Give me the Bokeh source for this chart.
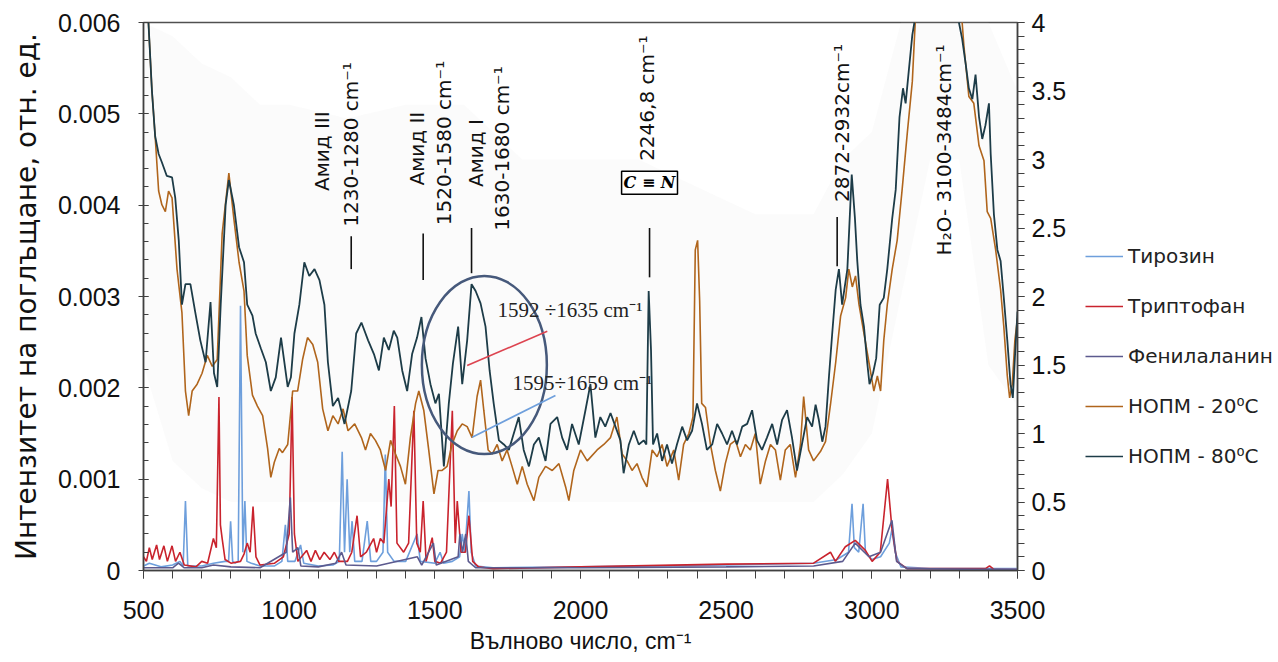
from math import pi
from bokeh.plotting import figure
from bokeh.layouts import row
from bokeh.models import (Range1d, LinearAxis, FixedTicker, CustomJSTickFormatter,
                          Legend, LegendItem, Label)
from bokeh.embed import file_html
from bokeh.resources import INLINE

# ---------------- data (wavenumber, cm-1) ----------------
# NOPM 80 C  (right axis)
x80 = [500, 510, 517, 529, 540, 552, 563, 580, 598, 609, 621, 632, 644, 661, 678, 695, 713, 730, 742, 753,
       765, 782, 793, 810, 828, 845, 856, 874, 885, 903, 920, 937, 954, 972, 995, 1006, 1018, 1035, 1052, 1069,
       1087, 1104, 1121, 1133, 1150, 1168, 1190, 1213, 1230, 1248, 1271, 1291, 1308, 1325, 1342, 1359, 1371, 1388,
       1405, 1422, 1439, 1454, 1468, 1485, 1502, 1514, 1531, 1548, 1562, 1580, 1594, 1611, 1626, 1640, 1657, 1674,
       1688, 1702, 1720, 1737, 1754, 1771, 1788, 1805, 1823, 1840, 1857, 1880, 1897, 1920, 1937, 1954, 1971, 1994,
       2017, 2034, 2051, 2068, 2085, 2103, 2120, 2137, 2148, 2166, 2183, 2200, 2217, 2226, 2234, 2242, 2249, 2263,
       2280, 2297, 2314, 2331, 2349, 2366, 2383, 2400, 2417, 2434, 2452, 2469, 2486, 2503, 2520, 2537, 2555, 2572,
       2589, 2606, 2623, 2640, 2658, 2675, 2692, 2709, 2726, 2743, 2760, 2778, 2795, 2807, 2818, 2830, 2841, 2853,
       2864, 2876, 2887, 2898, 2916, 2931, 2942, 2950, 2961, 2973, 2984, 2992, 3004, 3015, 3027, 3041, 3053, 3070,
       3082, 3095, 3107, 3116, 3127, 3139, 3150, 3200, 3250, 3299, 3310, 3322, 3333, 3345, 3356, 3368, 3379, 3390,
       3402, 3408, 3419, 3431, 3442, 3453, 3465, 3476, 3484, 3491, 3500]
y80 = [4.5, 4.2, 4.0, 3.5, 3.17, 3.04, 2.98, 2.88, 2.87, 2.72, 2.41, 1.94, 2.09, 2.09, 1.88, 1.68, 1.52, 1.96, 1.44, 1.34,
       1.94, 2.67, 2.85, 2.67, 2.36, 2.25, 1.94, 1.86, 1.73, 1.62, 1.52, 1.31, 1.41, 1.70, 1.34, 1.41, 1.73, 1.94, 2.25, 2.15,
       2.20, 2.12, 1.94, 1.52, 1.20, 1.26, 1.07, 1.31, 1.73, 1.81, 1.68, 1.58, 1.46, 1.70, 1.61, 1.75, 1.70, 1.46,
       1.31, 1.58, 1.70, 1.85, 1.55, 1.36, 1.22, 1.29, 0.76, 1.22, 1.51, 1.78, 1.36, 1.68, 2.09, 2.04, 1.95, 1.78,
       1.46, 1.22, 0.95, 0.92, 0.88, 1.00, 1.12, 0.88, 0.76, 0.92, 0.97, 0.80, 1.07, 1.12, 0.97, 0.88, 1.07, 0.92,
       1.17, 1.36, 0.97, 1.12, 1.05, 1.15, 1.05, 0.95, 0.71, 0.92, 1.02, 0.92, 0.95, 0.92, 2.04, 1.61, 0.92, 1.00,
       0.80, 0.92, 0.78, 0.92, 1.05, 0.95, 1.02, 1.22, 1.07, 0.88, 0.92, 1.07, 1.00, 0.92, 1.02, 0.92, 1.05, 1.07,
       1.17, 0.95, 0.88, 0.97, 1.07, 0.92, 1.10, 1.17, 0.97, 0.73, 0.92, 1.12, 1.05, 1.21, 1.10, 0.94, 1.05, 1.42,
       1.73, 2.05, 2.20, 1.94, 2.20, 2.89, 2.57, 2.26, 1.94, 1.78, 1.52, 1.36, 1.44, 1.55, 1.94, 1.99, 2.20, 2.57,
       2.78, 3.31, 3.52, 3.41, 3.65, 3.91, 4.05, 4.4, 4.4, 4.0, 3.88, 3.70, 3.52, 3.44, 3.62, 3.31, 3.15, 3.25,
       3.41, 3.04, 2.60, 2.34, 2.26, 1.99, 1.68, 1.36, 1.26, 1.55, 1.89]

# NOPM 20 C  (right axis)
x20 = [500, 510, 517, 529, 540, 552, 563, 575, 586, 598, 615, 632, 644, 655, 667, 684, 701, 719, 736, 753,
       770, 793, 810, 828, 845, 856, 874, 891, 909, 926, 937, 949, 966, 977, 995, 1012, 1029, 1046, 1063, 1081,
       1098, 1115, 1133, 1150, 1168, 1185, 1202, 1225, 1248, 1262, 1279, 1296, 1313, 1331, 1348, 1365, 1382, 1399,
       1416, 1434, 1445, 1462, 1479, 1497, 1511, 1525, 1542, 1559, 1577, 1594, 1611, 1628, 1645, 1657, 1668, 1683,
       1697, 1714, 1731, 1748, 1765, 1783, 1800, 1817, 1840, 1857, 1880, 1903, 1926, 1949, 1960, 1977, 2000, 2023,
       2057, 2080, 2103, 2125, 2143, 2160, 2177, 2194, 2211, 2228, 2246, 2263, 2280, 2297, 2320, 2337, 2354, 2372,
       2386, 2394, 2402, 2409, 2416, 2429, 2446, 2463, 2480, 2497, 2514, 2532, 2549, 2566, 2583, 2600, 2617, 2635,
       2652, 2669, 2686, 2703, 2720, 2738, 2755, 2766, 2783, 2800, 2824, 2841, 2858, 2876, 2893, 2910, 2921, 2933,
       2944, 2956, 2973, 2990, 3007, 3019, 3030, 3041, 3053, 3070, 3087, 3104, 3122, 3139, 3150, 3200, 3260, 3310,
       3316, 3333, 3350, 3368, 3385, 3396, 3408, 3425, 3442, 3453, 3465, 3473, 3482, 3491, 3500]
y20 = [4.5, 4.2, 4.0, 3.5, 3.17, 2.77, 2.67, 2.62, 2.77, 2.72, 2.20, 1.88, 1.31, 1.13, 1.31, 1.36, 1.44, 1.57, 1.49, 1.54,
       2.46, 2.90, 2.57, 2.25, 2.04, 1.57, 1.28, 1.20, 1.13, 0.89, 0.68, 0.79, 0.89, 0.86, 0.92, 1.31, 1.31, 1.54, 1.70, 1.65,
       1.52, 1.18, 1.02, 1.13, 1.07, 1.18, 1.02, 1.07, 0.97, 0.88, 1.00, 0.95, 0.88, 0.73, 0.95, 0.85, 0.76, 0.63,
       0.97, 1.22, 1.31, 1.17, 0.88, 0.56, 0.73, 0.73, 0.76, 0.92, 1.02, 1.07, 1.05, 0.97, 1.27, 1.39, 1.17, 0.88,
       0.85, 0.92, 0.80, 0.88, 0.76, 0.63, 0.76, 0.63, 0.51, 0.68, 0.76, 0.73, 0.78, 0.61, 0.51, 0.73, 0.88, 0.80,
       0.88, 0.92, 0.97, 1.12, 0.85, 0.80, 0.73, 0.78, 0.68, 0.61, 0.88, 0.83, 0.92, 0.76, 0.88, 0.66, 0.92, 1.00,
       1.12, 2.34, 2.41, 1.97, 1.22, 1.19, 0.92, 0.73, 0.58, 0.78, 0.92, 0.95, 0.83, 0.92, 0.88, 1.00, 0.63, 0.80,
       0.92, 0.88, 0.66, 0.88, 0.92, 0.68, 0.92, 1.27, 0.88, 0.80, 0.87, 0.94, 1.21, 1.52, 1.86, 1.99, 2.20, 2.07,
       2.15, 1.94, 1.73, 1.52, 1.31, 1.42, 1.31, 1.68, 1.94, 2.20, 2.41, 2.78, 3.20, 3.57, 4.05, 4.4, 4.4, 4.0,
       3.83, 3.46, 3.41, 3.10, 2.99, 2.62, 2.57, 2.34, 2.05, 1.78, 1.42, 1.26, 1.36, 1.68, 1.84]

# Tyrosine (left axis)
x_tyr = [500, 520, 560, 600, 625, 636, 644, 652, 700, 740, 780, 792, 799, 806, 815, 825, 833, 841, 848, 855,
         870, 900, 950, 975, 987, 995, 1020, 1039, 1050, 1100, 1150, 1172, 1182, 1190, 1199, 1208, 1216, 1225,
         1250, 1268, 1280, 1300, 1322, 1330, 1338, 1360, 1400, 1439, 1450, 1500, 1518, 1530, 1560, 1585, 1594,
         1603, 1617, 1625, 1640, 1700, 2000, 2500, 2800, 2880, 2920, 2932, 2940, 2955, 2970, 2978, 3000, 3030,
         3060, 3069, 3080, 3100, 3200, 3500]
y_tyr = [0.00005, 0.00008, 0.00004, 0.00006, 0.0001, 0.00005, 0.00076, 0.00005, 0.00005, 0.00008, 0.0001, 0.0001,
         0.00054, 0.0001, 0.00008, 0.0001, 0.0029, 0.0002, 0.00076, 0.0001, 0.00008, 0.00005, 0.00005, 0.0001,
         0.0005, 0.0001, 0.0001, 0.00028, 0.00008, 0.00005, 0.00006, 0.0001, 0.0013, 0.0002, 0.001, 0.0002,
         0.00054, 0.0001, 0.0001, 0.00054, 0.0001, 0.0001, 0.0002, 0.00127, 0.0002, 0.0001, 0.0001, 0.0004,
         0.0001, 0.00008, 0.0002, 0.00008, 0.0001, 0.00015, 0.0004, 0.0002, 0.00087, 0.0002, 0.00005, 0.00003,
         0.00004, 0.00006, 0.00008, 0.00012, 0.0002, 0.00073, 0.00025, 0.0002, 0.00073, 0.0002, 0.00012, 0.00015,
         0.0003, 0.00045, 0.0002, 0.00004, 0.00002, 0.00002]

# Tryptophan (left axis)
x_trp = [500, 510, 520, 530, 545, 555, 570, 582, 598, 610, 625, 640, 680, 700, 720, 740, 750, 759, 764, 770,
         780, 800, 833, 845, 856, 866, 876, 886, 900, 950, 980, 1000, 1010, 1018, 1030, 1060, 1075, 1090, 1105,
         1120, 1140, 1155, 1170, 1200, 1215, 1233, 1245, 1265, 1290, 1300, 1313, 1325, 1342, 1350, 1361, 1370,
         1393, 1410, 1428, 1438, 1450, 1460, 1470, 1491, 1500, 1520, 1540, 1560, 1570, 1577, 1590, 1605, 1617,
         1630, 1650, 1700, 2000, 2500, 2800, 2858, 2875, 2909, 2943, 2978, 3001, 3029, 3054, 3069, 3086, 3121,
         3390, 3404, 3420, 3500]
y_trp = [0.00015, 0.0001, 0.00025, 0.00012, 0.00028, 0.00012, 0.00027, 0.0001, 0.00027, 0.0001, 0.0002, 0.00006,
         0.00004, 0.0001, 0.00008, 0.00035, 0.00025, 0.0019, 0.0005, 0.00035, 0.00012, 0.00008, 0.0001, 0.00018,
         0.0003, 0.0002, 0.0007, 0.00015, 0.00006, 0.00008, 0.00015, 0.0004, 0.0019, 0.0004, 0.0001, 0.00022,
         0.0001, 0.00022, 0.00012, 0.0002, 0.00012, 0.0002, 0.0001, 0.0001, 0.0002, 0.0006, 0.00015, 0.0002,
         0.00035, 0.0002, 0.00035, 0.0003, 0.001, 0.0007, 0.0018, 0.0003, 0.0002, 0.0003, 0.00175, 0.0003,
         0.0002, 0.00076, 0.0001, 0.00036, 0.0001, 0.00008, 0.0002, 0.00175, 0.0003, 0.00076, 0.0002, 0.0002,
         0.0006, 0.0001, 0.00004, 0.00002, 0.00004, 0.00007, 0.00008, 0.0002, 0.0001, 0.00026, 0.00033, 0.00022,
         0.0001, 0.0002, 0.001, 0.00046, 0.0001, 0.00002, 0.00002, 0.00005, 0.00001, 0.00001]

# Phenylalanine (left axis)
x_phe = [500, 600, 620, 640, 700, 740, 800, 900, 990, 1004, 1012, 1030, 1040, 1100, 1160, 1180, 1195, 1300,
         1440, 1455, 1495, 1505, 1580, 1586, 1595, 1606, 1615, 1640, 2000, 2500, 2800, 2900, 2943, 2990, 3030,
         3069, 3085, 3120, 3500]
y_phe = [0.00003, 0.00003, 0.00008, 0.00003, 0.00003, 0.00006, 0.00004, 0.00003, 0.0002, 0.0008, 0.0002,
         0.00025, 0.00005, 0.00004, 0.00008, 0.0002, 0.00006, 0.00005, 0.00015, 0.00006, 0.0003, 0.00006,
         0.00015, 0.0004, 0.0002, 0.0004, 0.0001, 0.00003, 0.00003, 0.00004, 0.00005, 0.0001, 0.0003, 0.00015,
         0.0002, 0.00055, 0.0001, 0.00002, 0.00001]

# faint raw-signal envelope (right axis)
x_raw = [500, 600, 700, 800, 900, 1000, 1200, 1400, 1600, 1800, 2000, 2200, 2400, 2600, 2800, 2900, 3000,
         3100, 3200, 3300, 3400, 3500]
raw_hi = [4.0, 3.9, 3.7, 3.6, 3.4, 3.4, 3.3, 3.4, 3.4, 3.0, 3.0, 3.0, 2.8, 2.6, 2.6, 3.0, 3.2, 4.0, 4.0, 4.0, 4.0, 3.5]
raw_lo = [1.5, 0.8, 0.6, 0.5, 0.5, 0.5, 0.5, 0.5, 0.5, 0.5, 0.5, 0.5, 0.5, 0.5, 0.5, 0.7, 1.0, 2.0, 3.0, 3.0, 1.5, 1.2]

series_names = ["Тирозин", "Триптофан", "Фенилаланин", "НОПМ - 20⁰C", "НОПМ - 80⁰C"]
series_colors = ["#6e9fdc", "#c9232d", "#5c5a8e", "#b0651c", "#1d3c48"]
x_ticks = [500, 1000, 1500, 2000, 2500, 3000, 3500]
left_ticks = [0, 0.001, 0.002, 0.003, 0.004, 0.005, 0.006]
right_ticks = [0, 0.5, 1, 1.5, 2, 2.5, 3, 3.5, 4]

# annotation positions (x in cm-1, y on right axis)
vlabels = [
    ("Амид III", 1114, 2.77),
    ("1230-1280 cm⁻¹", 1211, 2.51),
    ("Амид II", 1439, 2.81),
    ("1520-1580 cm⁻¹", 1531, 2.52),
    ("Амид I", 1640, 2.80),
    ("1630-1680 cm⁻¹", 1731, 2.48),
    ("2246,8 cm⁻¹", 2229, 2.99),
    ("2872-2932cm⁻¹", 2898, 2.69),
    ("H₂O- 3100-3484cm⁻¹", 3246, 2.30),
]
marks_x = [1213, 1460, 1626, 2237, 2881]
marks_y0 = [2.20, 2.12, 2.17, 2.14, 2.22]
marks_y1 = [2.44, 2.46, 2.50, 2.50, 2.58]

# ---------------- main figure ----------------
p = figure(width=1085, height=662, x_range=Range1d(500, 3500), y_range=Range1d(0, 0.006),
           output_backend="svg", toolbar_location=None,
           min_border_left=143, min_border_right=68, min_border_top=22, min_border_bottom=92)
p.extra_y_ranges = {"right": Range1d(0, 4)}
p.grid.visible = False
p.outline_line_color = "#505050"
p.outline_line_width = 1.5
p.background_fill_color = "white"

p.varea(x=x_raw, y1=raw_lo, y2=raw_hi, y_range_name="right", fill_color="#ececec", fill_alpha=0.2)

p.line(x_tyr, y_tyr, line_color=series_colors[0], line_width=1.6)
p.line(x_trp, y_trp, line_color=series_colors[1], line_width=1.6)
p.line(x_phe, y_phe, line_color=series_colors[2], line_width=1.6)
p.line(x20, y20, y_range_name="right", line_color=series_colors[3], line_width=1.6)
p.line(x80, y80, y_range_name="right", line_color=series_colors[4], line_width=1.8)

xa = p.xaxis[0]
xa.ticker = FixedTicker(ticks=x_ticks, minor_ticks=list(range(500, 3501, 100)))
xa.axis_label = "Вълново число, cm⁻¹"
ya = p.yaxis[0]
ya.ticker = FixedTicker(ticks=left_ticks, minor_ticks=[i * 0.0002 for i in range(31)])
ya.formatter = CustomJSTickFormatter(code="return tick == 0 ? '0' : tick.toFixed(3);")
ya.axis_label = "Интензитет на поглъщане, отн. ед."
ra = LinearAxis(y_range_name="right",
                ticker=FixedTicker(ticks=right_ticks, minor_ticks=[i * 0.1 for i in range(41)]))
p.add_layout(ra, "right")

for ax in (xa, ya, ra):
    ax.axis_line_color = "#404040"
    ax.axis_line_width = 1.5
    ax.major_tick_line_color = "#404040"
    ax.minor_tick_line_color = "#404040"
    ax.major_label_text_font = "Liberation Sans"
    ax.major_label_text_font_size = "25px"
    ax.major_label_text_color = "#111111"
    ax.axis_label_text_font = "Liberation Sans"
    ax.axis_label_text_font_size = "23px"
    ax.axis_label_text_font_style = "normal"
    ax.axis_label_text_color = "#111111"

xa.major_tick_in = 0
xa.major_tick_out = 8
xa.minor_tick_in = 0
xa.minor_tick_out = 8
xa.major_label_standoff = 22
xa.axis_label_standoff = 6

ya.major_tick_in = 5
ya.major_tick_out = 5
ya.minor_tick_in = 5
ya.minor_tick_out = 0
ya.major_label_standoff = 18
ya.axis_label_standoff = 12
ya.axis_label_text_font = "DejaVu Sans"
ya.axis_label_text_font_size = "28px"

ra.major_tick_in = 0
ra.major_tick_out = 7
ra.minor_tick_in = 0
ra.minor_tick_out = 7
ra.major_label_standoff = 7

for txt, xx, yy in vlabels:
    p.add_layout(Label(x=xx, y=yy, y_range_name="right", text=txt, angle=pi / 2,
                       text_align="left", text_baseline="middle",
                       text_font="DejaVu Sans", text_font_size="20px", text_color="#111111"))
p.segment(x0=marks_x, y0=marks_y0, x1=marks_x, y1=marks_y1, y_range_name="right",
          line_color="#111111", line_width=1.6)

p.add_layout(Label(x=2237, y=2.83, y_range_name="right", text="C ≡ N",
                   text_align="center", text_baseline="middle",
                   text_font="DejaVu Serif", text_font_style="bold italic", text_font_size="16px",
                   text_color="black", border_line_color="black", border_line_width=1.5,
                   background_fill_color="white", padding=2))

p.ellipse(x=[1670], y=[1.50], width=[429], height=[1.30], y_range_name="right",
          fill_color=None, line_color="#46597b", line_width=2.5)
p.segment(x0=[1611], y0=[1.496], x1=[1886], y1=[1.747], y_range_name="right",
          line_color="#dd4450", line_width=1.6)
p.segment(x0=[1628], y0=[0.973], x1=[1914], y1=[1.277], y_range_name="right",
          line_color="#6e9fdc", line_width=1.6)
p.add_layout(Label(x=1715, y=1.90, y_range_name="right", text="1592 ÷1635 cm⁻¹",
                   text_baseline="middle", text_font="Liberation Serif", text_font_size="21px",
                   text_color="#222222"))
p.add_layout(Label(x=1767, y=1.37, y_range_name="right", text="1595÷1659 cm⁻¹",
                   text_baseline="middle", text_font="Liberation Serif", text_font_size="21px",
                   text_color="#222222"))

# ---------------- legend panel (separate narrow figure to the right) ----------------
lg = figure(width=193, height=662, x_range=Range1d(0, 1), y_range=Range1d(0, 1),
            output_backend="svg", toolbar_location=None, x_axis_type=None, y_axis_type=None,
            min_border_left=0, min_border_right=0, min_border_top=0, min_border_bottom=0)
lg.grid.visible = False
lg.outline_line_color = None
items = []
for name, col in zip(series_names, series_colors):
    # legend proxy: a single undefined point, so nothing is drawn in the panel itself
    rr = lg.line(x=[float("nan")], y=[float("nan")], line_color=col, line_width=1.6)
    items.append(LegendItem(label=name, renderers=[rr]))
legend = Legend(items=items, location=(0, 102), orientation="vertical",
                glyph_width=38, glyph_height=20, label_height=20, label_standoff=5, spacing=26,
                padding=0, margin=0, border_line_color=None, background_fill_alpha=0,
                label_text_font="DejaVu Sans", label_text_font_size="20px", label_text_color="#222222")
lg.add_layout(legend)

layout = row(p, lg)
open("out.html", "w").write(file_html(layout, INLINE))
